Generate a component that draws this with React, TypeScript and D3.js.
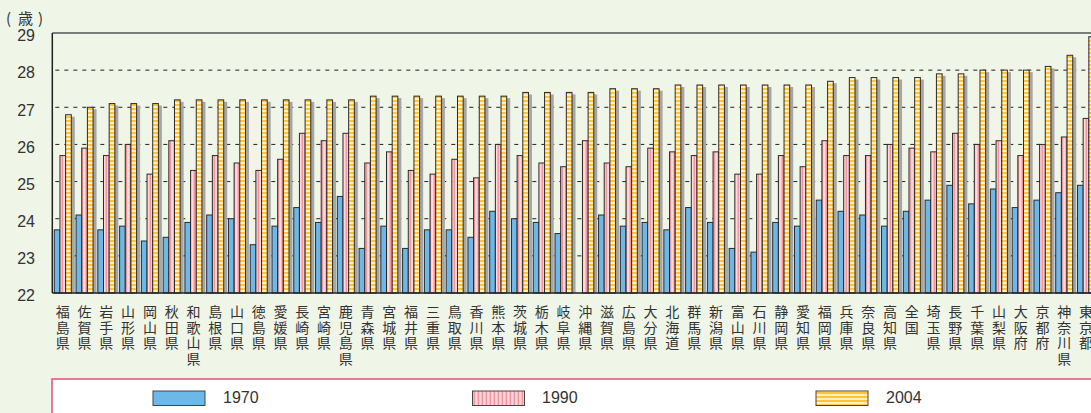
import React from 'react';
import * as d3 from 'd3';

const categories = ['福島県','佐賀県','岩手県','山形県','岡山県','秋田県','和歌山県','島根県','山口県','徳島県','愛媛県','長崎県','宮崎県','鹿児島県','青森県','宮城県','福井県','三重県','鳥取県','香川県','熊本県','茨城県','栃木県','岐阜県','沖縄県','滋賀県','広島県','大分県','北海道','群馬県','新潟県','富山県','石川県','静岡県','愛知県','福岡県','兵庫県','奈良県','高知県','全国','埼玉県','長野県','千葉県','山梨県','大阪府','京都府','神奈川県','東京都'];

const v1970: (number | null)[] = [23.7,24.1,23.7,23.8,23.4,23.5,23.9,24.1,24.0,23.3,23.8,24.3,23.9,24.6,23.2,23.8,23.2,23.7,23.7,23.5,24.2,24.0,23.9,23.6,null,24.1,23.8,23.9,23.7,24.3,23.9,23.2,23.1,23.9,23.8,24.5,24.2,24.1,23.8,24.2,24.5,24.9,24.4,24.8,24.3,24.5,24.7,24.9];
const v1990: (number | null)[] = [25.7,25.9,25.7,26.0,25.2,26.1,25.3,25.7,25.5,25.3,25.6,26.3,26.1,26.3,25.5,25.8,25.3,25.2,25.6,25.1,26.0,25.7,25.5,25.4,26.1,25.5,25.4,25.9,25.8,25.7,25.8,25.2,25.2,25.7,25.4,26.1,25.7,25.7,26.0,25.9,25.8,26.3,26.0,26.1,25.7,26.0,26.2,26.7];
const v2004: (number | null)[] = [26.8,27.0,27.1,27.1,27.1,27.2,27.2,27.2,27.2,27.2,27.2,27.2,27.2,27.2,27.3,27.3,27.3,27.3,27.3,27.3,27.3,27.4,27.4,27.4,27.4,27.5,27.5,27.5,27.6,27.6,27.6,27.6,27.6,27.6,27.6,27.7,27.8,27.8,27.8,27.8,27.9,27.9,28.0,28.0,28.0,28.1,28.4,28.9];

const seriesNames = ['1970', '1990', '2004'];
const seriesValues = [v1970, v1990, v2004];
const yTicks = [22, 23, 24, 25, 26, 27, 28, 29];
const gridTicks = [23, 24, 25, 26, 27, 28];
const unitLabel = ['(', '歳', ')'];

const W = 1091;
const H = 413;
const left = 52.3;
const step = 21.77;
const top = 33;
const bottom = 293;

const fills = ['#6cb8e8', 'url(#pinkStripe)', 'url(#yellowStripe)'];

export default function App() {
  const x0 = d3
    .scaleBand<string>()
    .domain(categories)
    .range([left, left + step * categories.length])
    .paddingInner(0)
    .paddingOuter(0);
  const x1 = d3.scaleBand<string>().domain(seriesNames).range([2, 19]).padding(0);
  const y = d3.scaleLinear().domain([22, 29]).range([bottom, top]);
  const right = left + step * categories.length;
  const bw = x1.bandwidth();

  const legendX = [153, 472.5, 816];
  const legendTextX = [223, 542, 886];

  return (
    <svg
      width={W}
      height={H}
      style={{ position: 'absolute', left: 0, top: 0, display: 'block' }}
      fontFamily="'Liberation Sans', Arial, 'Noto Sans CJK JP', sans-serif"
    >
      <defs>
        <pattern id="pinkStripe" patternUnits="userSpaceOnUse" width={4} height={4}>
          <rect width={4} height={4} fill="#ffd9dc" />
          <rect x={1.5} width={1.6} height={4} fill="#f2959e" />
        </pattern>
        <pattern id="yellowStripe" patternUnits="userSpaceOnUse" width={4} height={4}>
          <rect width={4} height={4} fill="#fff2c0" />
          <rect y={0} width={4} height={2} fill="#ffc43a" />
        </pattern>
      </defs>
      <rect width={W} height={H} fill="#eff5e7" />

      {/* unit label */}
      <text y={24} fontSize={15} fill="#333" fontFamily="'Noto Sans CJK JP', sans-serif">
        <tspan x={6}>{unitLabel[0]}</tspan>
        <tspan x={18}>{unitLabel[1]}</tspan>
        <tspan x={38}>{unitLabel[2]}</tspan>
      </text>

      {/* y tick labels */}
      {yTicks.map((t) => (
        <text key={t} x={35} y={y(t) + 4} fontSize={16} fill="#333" textAnchor="end" dominantBaseline="middle">
          {t}
        </text>
      ))}

      {/* gridlines */}
      {gridTicks.map((t) => (
        <line
          key={t}
          x1={left + 3}
          x2={right}
          y1={y(t)}
          y2={y(t)}
          stroke="#222"
          strokeWidth={1}
          strokeDasharray="4,5"
        />
      ))}
      <line x1={left} x2={right} y1={y(29)} y2={y(29)} stroke="#555" strokeWidth={1.5} />

      {/* bars */}
      {categories.map((c, ci) => {
        const gx = x0(c)!;
        return (
          <g key={c}>
            {seriesNames.map((s, si) => {
              const v = seriesValues[si][ci];
              if (v == null) return null;
              return (
                <rect
                  key={'sh' + s}
                  x={gx + x1(s)! + 3.5}
                  y={y(v) + 2}
                  width={bw}
                  height={bottom - y(v) - 2}
                  fill="#a6a6a6"
                />
              );
            })}
            {seriesNames.map((s, si) => {
              const v = seriesValues[si][ci];
              if (v == null) return null;
              return (
                <rect
                  key={s}
                  x={gx + x1(s)!}
                  y={y(v)}
                  width={bw}
                  height={bottom - y(v)}
                  fill={fills[si]}
                  stroke="#2a2a2a"
                  strokeWidth={1}
                />
              );
            })}
          </g>
        );
      })}

      {/* axes */}
      <line x1={left} x2={left} y1={top} y2={bottom} stroke="#222" strokeWidth={1.5} />
      <line x1={left} x2={right} y1={bottom} y2={bottom} stroke="#222" strokeWidth={1.5} />

      {/* category labels, written vertically */}
      {categories.map((c) => {
        const cx = x0(c)! + 10.5;
        return (
          <text
            key={'l' + c}
            x={cx}
            y={304.5}
            fontSize={14}
            fill="#333"
            style={{ writingMode: 'vertical-rl', letterSpacing: '1.8px' } as React.CSSProperties}
            fontFamily="'Noto Sans CJK JP', sans-serif"
          >
            {c}
          </text>
        );
      })}

      {/* legend */}
      <rect x={52} y={379} width={W + 20} height={60} fill="#ffffff" stroke="#e0507a" strokeWidth={1.5} />
      {seriesNames.map((s, i) => (
        <g key={'lg' + s}>
          <rect x={legendX[i]} y={391} width={52} height={14.5} fill={fills[i]} stroke="#444" strokeWidth={1} />
          <text x={legendTextX[i]} y={398.5} fontSize={16} fill="#333" dominantBaseline="middle">
            {s}
          </text>
        </g>
      ))}
    </svg>
  );
}
